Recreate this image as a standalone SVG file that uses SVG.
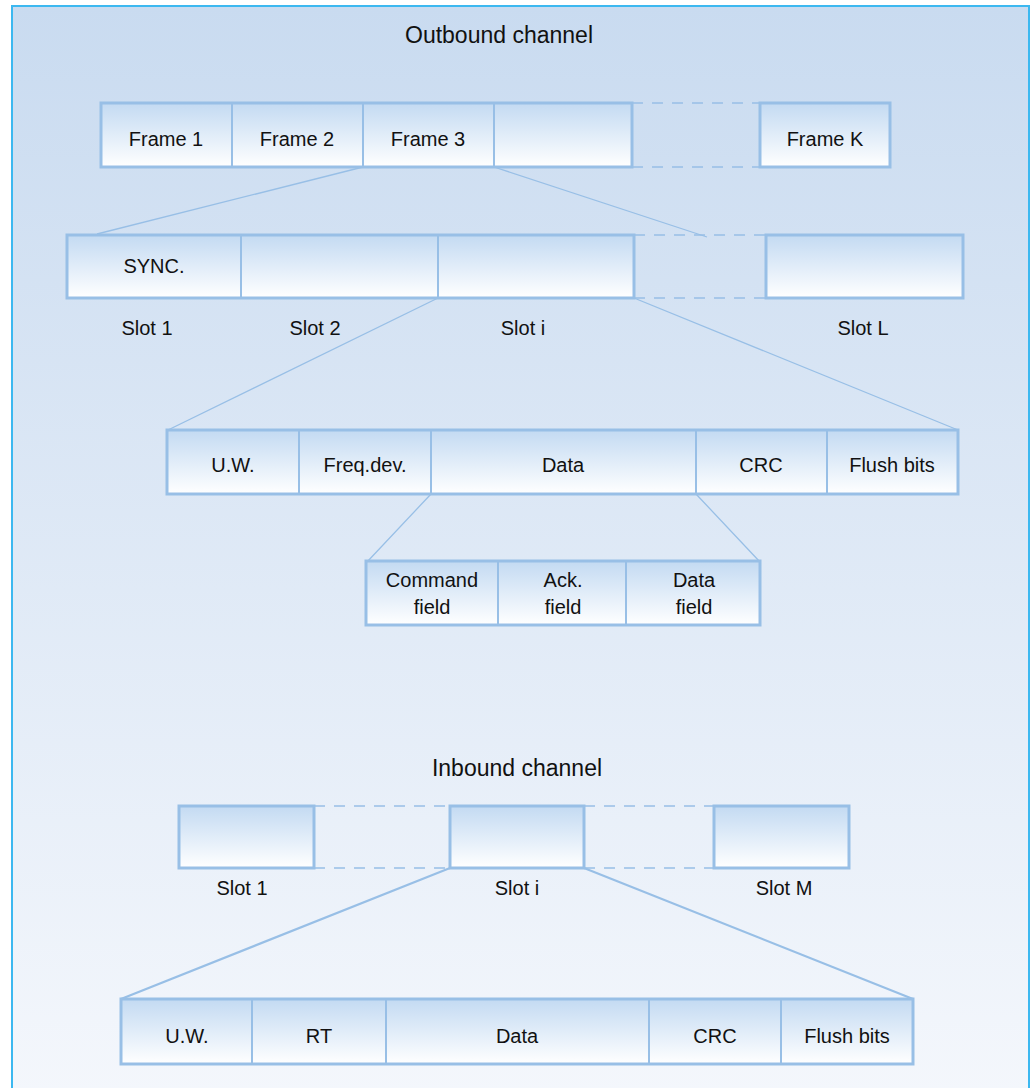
<svg xmlns="http://www.w3.org/2000/svg" width="1034" height="1088" viewBox="0 0 1034 1088">
<defs>
<linearGradient id="bg" x1="0" y1="0" x2="0" y2="1">
<stop offset="0" stop-color="#c9dbf0"/>
<stop offset="1" stop-color="#f4f7fc"/>
</linearGradient>
<linearGradient id="box" x1="0" y1="0" x2="0" y2="1">
<stop offset="0" stop-color="#c3daf2"/>
<stop offset="1" stop-color="#ffffff"/>
</linearGradient>
<style>
.b{fill:url(#box);stroke:#98bfe6;stroke-width:3}
.d{stroke:#98bfe6;stroke-width:2}
.c{stroke:#98bfe6;stroke-width:1.3;fill:none}
.c2{stroke:#98bfe6;stroke-width:2.2;fill:none}
.ds{stroke:#98bfe6;stroke-width:1.5;stroke-dasharray:11 9;fill:none}
text{font-family:"Liberation Sans",Arial,sans-serif;font-size:20px;fill:#111;text-anchor:middle}
.t{font-size:23px}
</style>
</defs>
<rect x="12" y="6" width="1017" height="1090" fill="url(#bg)" stroke="#3cb8f0" stroke-width="2"/>
<text class="t" x="499" y="43">Outbound channel</text>
<text class="t" x="517" y="776">Inbound channel</text>

<g id="connectors">
<path class="ds" d="M632 103H760M632 167H760"/>
<path class="ds" d="M634 235H766M634 298H766"/>
<path class="ds" d="M314 806H450M314 868H450M584 806H714M584 868H714"/>
<path class="c" d="M363 167L97 234M494 167L707 237"/>
<path class="c" d="M438 298L168 430M634 298L958 430"/>
<path class="c" d="M431 494L367 562M696 494L760 562"/>
<path class="c2" d="M450 868L121 999M584 868L913 999"/>
</g>

<g id="frames">
<rect class="b" x="101" y="103" width="531" height="64"/>
<path class="d" d="M232 103V167M363 103V167M494 103V167"/>
<text x="166" y="146">Frame 1</text>
<text x="297" y="146">Frame 2</text>
<text x="428" y="146">Frame 3</text>
</g>
<g id="frameK">
<rect class="b" x="760" y="103" width="130" height="64"/>
<text x="825" y="146">Frame K</text>
</g>

<g id="slots">
<rect class="b" x="67" y="235" width="567" height="63"/>
<path class="d" d="M241 235V298M438 235V298"/>
<text x="154" y="273">SYNC.</text>
</g>
<g id="slotL">
<rect class="b" x="766" y="235" width="197" height="63"/>
</g>
<g id="slotlabels">
<text x="147" y="335">Slot 1</text>
<text x="315" y="335">Slot 2</text>
<text x="523" y="335">Slot i</text>
<text x="863" y="335">Slot L</text>
</g>

<g id="outslot">
<rect class="b" x="167" y="430" width="791" height="64"/>
<path class="d" d="M299 430V494M431 430V494M696 430V494M827 430V494"/>
<text x="233" y="472">U.W.</text>
<text x="365" y="472">Freq.dev.</text>
<text x="563" y="472">Data</text>
<text x="761" y="472">CRC</text>
<text x="892" y="472">Flush bits</text>
</g>

<g id="datafields">
<rect class="b" x="366" y="561" width="394" height="64"/>
<path class="d" d="M498 561V625M626 561V625"/>
<text x="432" y="587">Command</text>
<text x="432" y="614">field</text>
<text x="563" y="587">Ack.</text>
<text x="563" y="614">field</text>
<text x="694" y="587">Data</text>
<text x="694" y="614">field</text>
</g>

<g id="inslot1"><rect class="b" x="179" y="806" width="135" height="62"/><text x="242" y="895">Slot 1</text></g>
<g id="insloti"><rect class="b" x="450" y="806" width="134" height="62"/><text x="517" y="895">Slot i</text></g>
<g id="inslotM"><rect class="b" x="714" y="806" width="135" height="62"/><text x="784" y="895">Slot M</text></g>

<g id="inburst">
<rect class="b" x="121" y="999" width="792" height="65"/>
<path class="d" d="M252 999V1064M386 999V1064M649 999V1064M781 999V1064"/>
<text x="187" y="1043">U.W.</text>
<text x="319" y="1043">RT</text>
<text x="517" y="1043">Data</text>
<text x="715" y="1043">CRC</text>
<text x="847" y="1043">Flush bits</text>
</g>
</svg>
